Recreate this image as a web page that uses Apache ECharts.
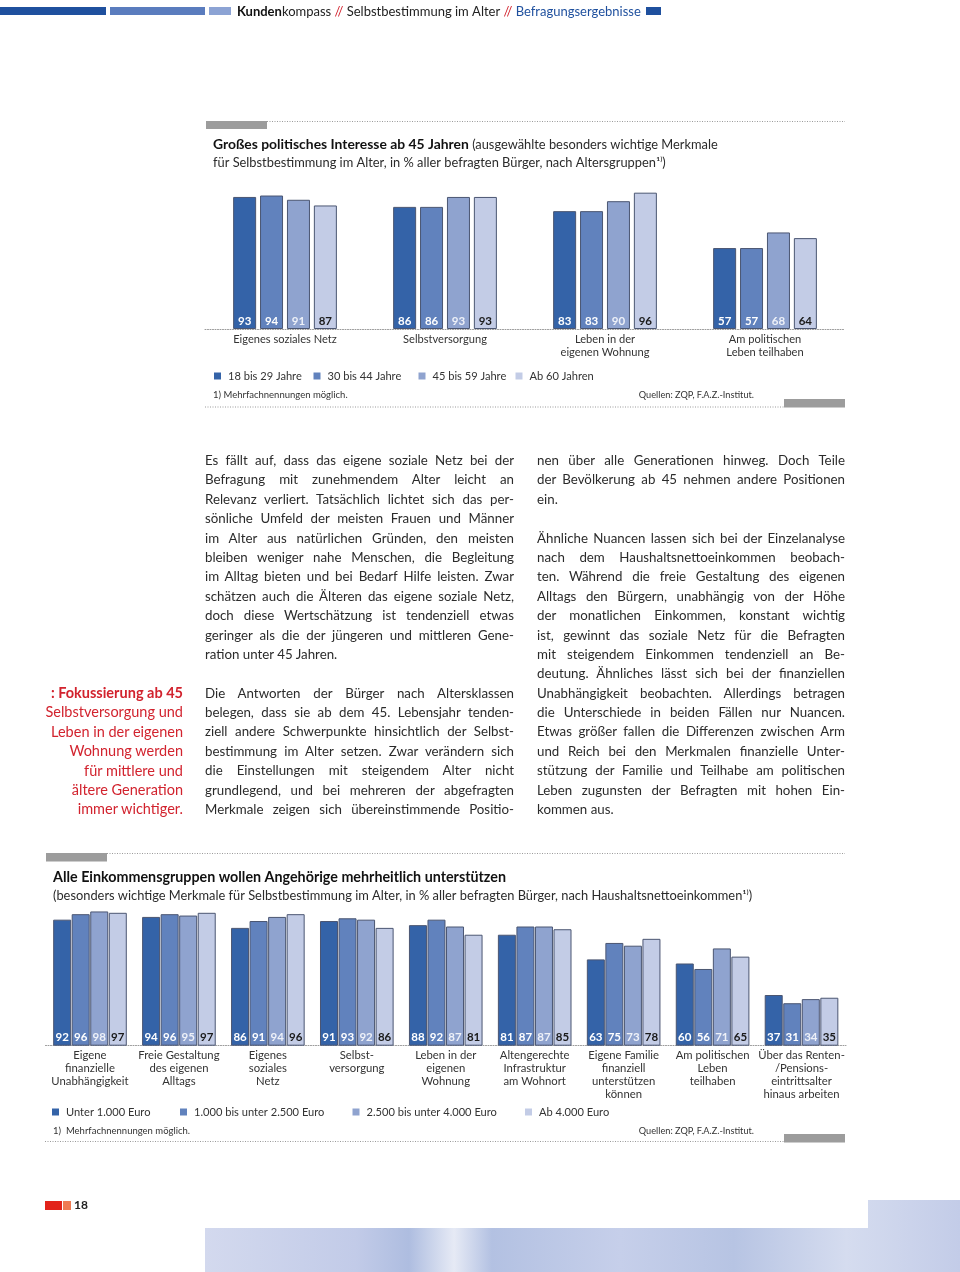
<!DOCTYPE html>
<html>
<head>
<meta charset="utf-8">
<script src="https://cdn.jsdelivr.net/npm/echarts@6/dist/echarts.min.js"></script>
<style>
  html, body { margin: 0; padding: 0; background: #fff; }
  #page { position: relative; width: 960px; height: 1272px; overflow: hidden; }
  #chart { position: absolute; left: 0; top: 0; width: 960px; height: 1272px; }
  .col { position: absolute; font-family: Lato, "Noto Sans", sans-serif; font-size: 13.3px; color: #2b2b2b; }
  .col div { height: 19.4px; line-height: 19.4px; text-align: justify; text-align-last: justify; white-space: nowrap; overflow: visible; }
  .col div.l { text-align-last: left; text-align: left; }
  .col div.gap { height: 19.4px; }
  .side { position: absolute; left: 10px; width: 173px; top: 683px; font-family: Lato, "Noto Sans", sans-serif; font-size: 14.5px; color: #d2232e; text-align: right; }
  .side div { height: 19.4px; line-height: 19.4px; white-space: nowrap; }
</style>
</head>
<body>
<div id="page">
  <div id="chart"></div>
  <div class="side">
    <div><b>: Fokussierung ab 45</b></div>
    <div>Selbstversorgung und</div>
    <div>Leben in der eigenen</div>
    <div>Wohnung werden</div>
    <div>für mittlere und</div>
    <div>ältere Generation</div>
    <div>immer wichtiger.</div>
  </div>
  <div class="col" style="left:205px; top:451px; width:309px;">
    <div>Es fällt auf, dass das eigene soziale Netz bei der</div>
    <div>Befragung mit zunehmendem Alter leicht an</div>
    <div>Relevanz verliert. Tatsächlich lichtet sich das per-</div>
    <div>sönliche Umfeld der meisten Frauen und Männer</div>
    <div>im Alter aus natürlichen Gründen, den meisten</div>
    <div>bleiben weniger nahe Menschen, die Begleitung</div>
    <div>im Alltag bieten und bei Bedarf Hilfe leisten. Zwar</div>
    <div>schätzen auch die Älteren das eigene soziale Netz,</div>
    <div>doch diese Wertschätzung ist tendenziell etwas</div>
    <div>geringer als die der jüngeren und mittleren Gene-</div>
    <div class="l">ration unter 45 Jahren.</div>
    <div class="gap"></div>
    <div>Die Antworten der Bürger nach Altersklassen</div>
    <div>belegen, dass sie ab dem 45. Lebensjahr tenden-</div>
    <div>ziell andere Schwerpunkte hinsichtlich der Selbst-</div>
    <div>bestimmung im Alter setzen. Zwar verändern sich</div>
    <div>die Einstellungen mit steigendem Alter nicht</div>
    <div>grundlegend, und bei mehreren der abgefragten</div>
    <div>Merkmale zeigen sich übereinstimmende Positio-</div>
  </div>
  <div class="col" style="left:537px; top:451px; width:308px;">
    <div>nen über alle Generationen hinweg. Doch Teile</div>
    <div>der Bevölkerung ab 45 nehmen andere Positionen</div>
    <div class="l">ein.</div>
    <div class="gap"></div>
    <div>Ähnliche Nuancen lassen sich bei der Einzelanalyse</div>
    <div>nach dem Haushaltsnettoeinkommen beobach-</div>
    <div>ten. Während die freie Gestaltung des eigenen</div>
    <div>Alltags den Bürgern, unabhängig von der Höhe</div>
    <div>der monatlichen Einkommen, konstant wichtig</div>
    <div>ist, gewinnt das soziale Netz für die Befragten</div>
    <div>mit steigendem Einkommen tendenziell an Be-</div>
    <div>deutung. Ähnliches lässt sich bei der finanziellen</div>
    <div>Unabhängigkeit beobachten. Allerdings betragen</div>
    <div>die Unterschiede in beiden Fällen nur Nuancen.</div>
    <div>Etwas größer fallen die Differenzen zwischen Arm</div>
    <div>und Reich bei den Merkmalen finanzielle Unter-</div>
    <div>stützung der Familie und Teilhabe am politischen</div>
    <div>Leben zugunsten der Befragten mit hohen Ein-</div>
    <div class="l">kommen aus.</div>
  </div>
</div>
<script>
// ---------- Data: chart 1 (age groups) ----------
const cats1 = ['Eigenes soziales Netz', 'Selbstversorgung', 'Leben in der\neigenen Wohnung', 'Am politischen\nLeben teilhaben'];
const ageGroups = ['18 bis 29 Jahre', '30 bis 44 Jahre', '45 bis 59 Jahre', 'Ab 60 Jahren'];
const age18to29 = [93, 86, 83, 57];
const age30to44 = [94, 86, 83, 57];
const age45to59 = [91, 93, 90, 68];
const age60plus = [87, 93, 96, 64];

// ---------- Data: chart 2 (income groups) ----------
const cats2 = ['Eigene\nfinanzielle\nUnabhängigkeit', 'Freie Gestaltung\ndes eigenen\nAlltags', 'Eigenes\nsoziales\nNetz', 'Selbst-\nversorgung', 'Leben in der\neigenen\nWohnung', 'Altengerechte\nInfrastruktur\nam Wohnort', 'Eigene Familie\nfinanziell\nunterstützen\nkönnen', 'Am politischen\nLeben\nteilhaben', 'Über das Renten-\n/Pensions-\neintrittsalter\nhinaus arbeiten'];
const incomeGroups = ['Unter 1.000 Euro', '1.000 bis unter 2.500 Euro', '2.500 bis unter 4.000 Euro', 'Ab 4.000 Euro'];
const incUnder1000 = [92, 94, 86, 91, 88, 81, 63, 60, 37];
const inc1000to2500 = [96, 96, 91, 93, 92, 87, 75, 56, 31];
const inc2500to4000 = [98, 95, 94, 92, 87, 87, 73, 71, 34];
const inc4000plus = [97, 97, 96, 86, 81, 85, 78, 65, 35];

const valueMax = 100;

// ---------- Styling ----------
const FONT = 'Lato, "Noto Sans", sans-serif';
const barColors = ['#3463a8', '#6182bd', '#8fa3cf', '#c3cce6'];
const labelColors = ['#ffffff', '#ffffff', '#eef1f8', '#1a1a1a'];
const TXT = '#333333';

function mkSeries(name, data, idx, gridIdx, barWidth, barGap) {
  return {
    type: 'bar', name: name, data: data,
    xAxisIndex: gridIdx, yAxisIndex: gridIdx,
    barWidth: barWidth, barGap: barGap,
    itemStyle: { color: barColors[idx], borderColor: '#4b5672', borderWidth: 1 },
    label: {
      show: true, position: 'insideBottom', distance: gridIdx === 0 ? 2 : 2.5,
      color: labelColors[idx], fontFamily: FONT, fontWeight: 'bold', fontSize: 11.5
    },
    emphasis: { disabled: true }
  };
}

function mkLegend(name, left, top) {
  return {
    data: [name], left: left, top: top, padding: 0,
    icon: 'rect', itemWidth: 7, itemHeight: 7,
    itemStyle: { borderWidth: 0 },
    textStyle: { fontFamily: FONT, fontSize: 11.1, color: TXT, padding: [0, 0, 0, 2] },
    selectedMode: false
  };
}

function dotted(x1, x2, y) {
  return { type: 'line', shape: { x1: x1, y1: y, x2: x2, y2: y }, style: { stroke: '#9a9a9a', lineWidth: 1, lineDash: [1, 1.5] }, silent: true };
}
function rect(x, y, w, h, fill) {
  return { type: 'rect', shape: { x: x, y: y, width: w, height: h }, style: { fill: fill }, silent: true };
}
function txt(x, y, text, extra) {
  return { type: 'text', silent: true, style: Object.assign({ x: x, y: y, text: text, fontFamily: FONT, fontSize: 13, fill: TXT, verticalAlign: 'middle' }, extra || {}) };
}

const chart = echarts.init(document.getElementById('chart'), null, { renderer: 'canvas' });

const option = {
  animation: false,
  backgroundColor: 'transparent',
  textStyle: { fontFamily: FONT },
  grid: [
    { left: 205, top: 187, width: 640, height: 142 },
    { left: 45.5, top: 908.7, width: 800.5, height: 137 }
  ],
  xAxis: [
    {
      gridIndex: 0, type: 'category', data: cats1,
      axisLine: { lineStyle: { color: '#9a9a9a', type: [1, 1.5] } },
      axisTick: { show: false },
      axisLabel: { interval: 0, fontFamily: FONT, fontSize: 11.1, lineHeight: 13, color: TXT, margin: 4 }
    },
    {
      gridIndex: 1, type: 'category', data: cats2,
      axisLine: { lineStyle: { color: '#9a9a9a', type: [1, 1.5] } },
      axisTick: { show: false },
      axisLabel: { interval: 0, fontFamily: FONT, fontSize: 11.3, lineHeight: 13, color: TXT, margin: 3 }
    }
  ],
  yAxis: [
    { gridIndex: 0, type: 'value', min: 0, max: valueMax, show: false },
    { gridIndex: 1, type: 'value', min: 0, max: valueMax, show: false }
  ],
  legend: [
    mkLegend(ageGroups[0], 214, 370.5),
    mkLegend(ageGroups[1], 313.5, 370.5),
    mkLegend(ageGroups[2], 418.5, 370.5),
    mkLegend(ageGroups[3], 515.5, 370.5),
    mkLegend(incomeGroups[0], 52, 1106.5),
    mkLegend(incomeGroups[1], 180, 1106.5),
    mkLegend(incomeGroups[2], 352.5, 1106.5),
    mkLegend(incomeGroups[3], 525, 1106.5)
  ],
  series: [
    mkSeries(ageGroups[0], age18to29, 0, 0, 23, '17%'),
    mkSeries(ageGroups[1], age30to44, 1, 0, 23, '17%'),
    mkSeries(ageGroups[2], age45to59, 2, 0, 23, '17%'),
    mkSeries(ageGroups[3], age60plus, 3, 0, 23, '17%'),
    mkSeries(incomeGroups[0], incUnder1000, 0, 1, 18, '3%'),
    mkSeries(incomeGroups[1], inc1000to2500, 1, 1, 18, '3%'),
    mkSeries(incomeGroups[2], inc2500to4000, 2, 1, 18, '3%'),
    mkSeries(incomeGroups[3], inc4000plus, 3, 1, 18, '3%')
  ],
  graphic: [
    // header
    rect(0, 7, 106, 8, '#1f509e'),
    rect(110, 7, 95, 8, '#5a7cbe'),
    rect(209, 7, 22, 8, '#8ca3d4'),
    txt(237, 11.5, '{b|Kunden}{n|kompass }{r|//}{n| Selbstbestimmung im Alter }{r|//}{bl| Befragungsergebnisse}', {
      rich: {
        b: { fontFamily: FONT, fontSize: 13, fontWeight: 'bold', fill: '#111' },
        n: { fontFamily: FONT, fontSize: 13, fill: '#222' },
        r: { fontFamily: FONT, fontSize: 13, fill: '#d2232e' },
        bl: { fontFamily: FONT, fontSize: 13, fill: '#1f509e' }
      }
    }),
    rect(646, 7, 15, 8, '#1f509e'),

    // chart 1 frame
    dotted(267, 845, 121.5),
    rect(206, 121, 61, 8, '#9c9c9c'),
    txt(213, 136, '{b|Großes politisches Interesse ab 45 Jahren}{n| (ausgewählte besonders wichtige Merkmale}\n{n|für Selbstbestimmung im Alter, in % aller befragten Bürger, nach Altersgruppen¹⁾)}', {
      verticalAlign: 'top',
      rich: {
        b: { fontFamily: FONT, fontSize: 13.9, fontWeight: 'bold', fill: '#111', lineHeight: 18 },
        n: { fontFamily: FONT, fontSize: 12.85, fill: '#2b2b2b', lineHeight: 18 }
      }
    }),
    txt(213, 395, '1) Mehrfachnennungen möglich.', { fontSize: 9.5 }),
    txt(754, 395, 'Quellen: ZQP, F.A.Z.-Institut.', { fontSize: 9.2, align: 'right' }),
    dotted(205, 784, 407),
    rect(784, 399, 61, 8.5, '#9c9c9c'),

    // chart 2 frame
    dotted(107, 845, 853.5),
    rect(46, 853, 61, 8.5, '#9c9c9c'),
    txt(53, 877.5, 'Alle Einkommensgruppen wollen Angehörige mehrheitlich unterstützen', { fontSize: 14.3, fontWeight: 'bold', fill: '#111' }),
    txt(53, 895.5, '(besonders wichtige Merkmale für Selbstbestimmung im Alter, in % aller befragten Bürger, nach Haushaltsnettoeinkommen¹⁾)', { fontSize: 12.85, fill: '#2b2b2b' }),
    txt(53, 1131, '1)  Mehrfachnennungen möglich.', { fontSize: 9.5 }),
    txt(754, 1131, 'Quellen: ZQP, F.A.Z.-Institut.', { fontSize: 9.2, align: 'right' }),
    dotted(45, 784, 1141.5),
    rect(784, 1134, 61, 8.5, '#9c9c9c'),

    // footer page number
    rect(45, 1201, 17, 9, '#e2231a'),
    rect(63, 1201, 8, 9, '#ef7b53'),
    txt(74, 1205.5, '18', { fontSize: 12, fontWeight: 'bold', fill: '#222' }),

    // decorative photo strip
    {
      type: 'rect', silent: true, shape: { x: 205, y: 1200, width: 755, height: 72 },
      style: {
        fill: new echarts.graphic.LinearGradient(0, 0, 1, 0, [
          { offset: 0, color: '#d3d9ee' },
          { offset: 0.2, color: '#c2cbe8' },
          { offset: 0.27, color: '#aebde0' },
          { offset: 0.33, color: '#e6eaf5' },
          { offset: 0.38, color: '#b3c1e2' },
          { offset: 0.55, color: '#c6cfea' },
          { offset: 0.7, color: '#b7c4e3' },
          { offset: 0.85, color: '#d5dcef' },
          { offset: 1, color: '#c3cce8' }
        ])
      }
    },
    {
      type: 'rect', silent: true, shape: { x: 205, y: 1200, width: 663, height: 28 },
      style: { fill: '#ffffff' }
    }
  ]
};

chart.setOption(option);
</script>
</body>
</html>
